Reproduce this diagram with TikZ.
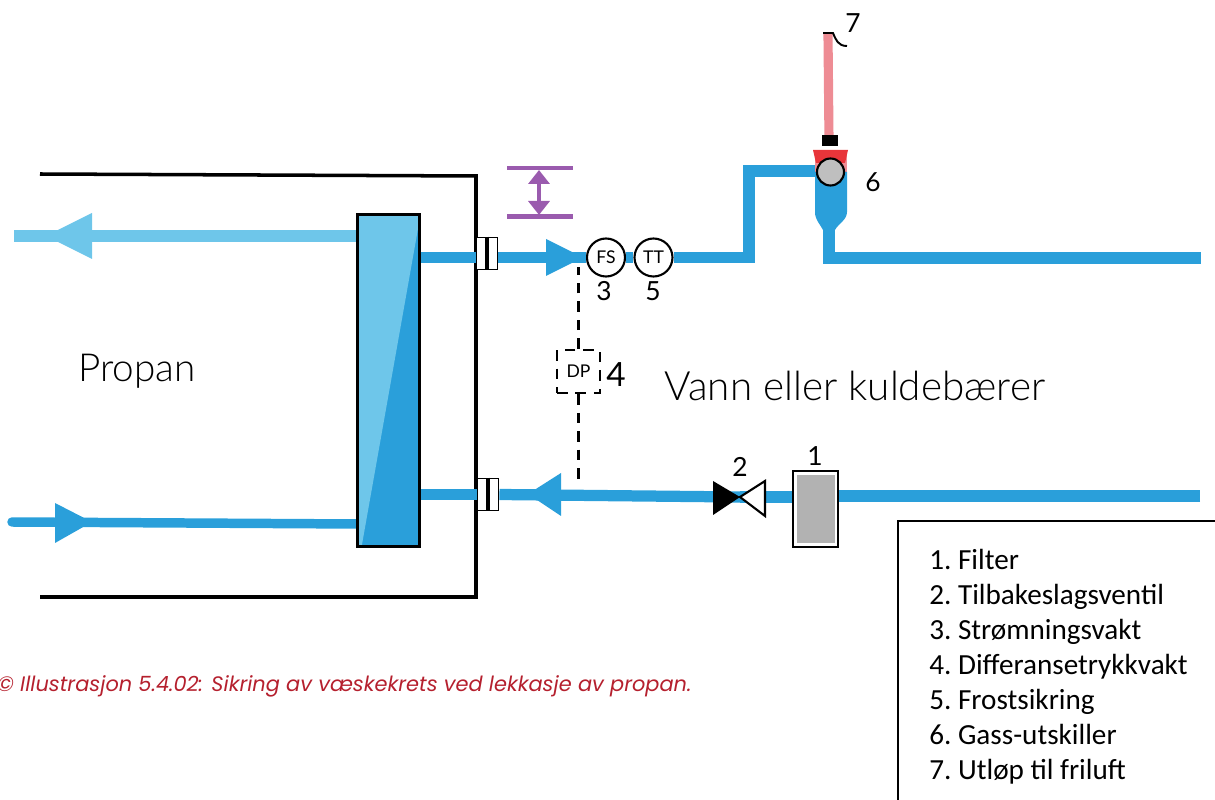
\documentclass[tikz,border=0pt]{standalone}
\usepackage{fontspec}
\setmainfont{Carlito}
\newfontfamily\handfont{Lato}
\newfontfamily\handlight{Lato Light}
\newfontfamily\capfont{Poppins}
\usepackage{xcolor}
\usetikzlibrary{arrows.meta, positioning, calc}
\definecolor{pipeblue}{HTML}{2A9FDA}
\definecolor{lightblue}{HTML}{6EC6EA}
\definecolor{ventred}{HTML}{EE8C94}
\definecolor{capred}{HTML}{B5202E}
\definecolor{dimpurple}{HTML}{9A5BAE}
\definecolor{capblock}{HTML}{E8353A}
\begin{document}
\begin{tikzpicture}[
    x=0.02cm, y=-0.02cm,
    pipe/.style={line width=6.4pt, draw=pipeblue},
    wall/.style={draw=black, line width=2pt},
    inst/.style={draw=black, circle, fill=white, line width=1.2pt, minimum size=.76cm, inner sep=0pt, font=\handfont\fontsize{10}{12}\selectfont},
    num/.style={font=\handfont\fontsize{15}{18}\selectfont, inner sep=0pt},
    flange/.style={draw=black, fill=white, line width=1.1pt, minimum width=.42cm, minimum height=.64cm, inner sep=0pt},
    dimline/.style={dimpurple, line width=2.6pt},
    dashline/.style={draw=black, line width=1.5pt, dash pattern=on 6pt off 4.5pt}
]
\useasboundingbox (0,0) rectangle (1215,800);
% vessel
\coordinate (walltopleft) at (40,174);
\coordinate (wallcorner) at (476,176);
\coordinate (wallbottom) at (476,597);
\coordinate (wallbotleft) at (40,597);
\draw[wall] (walltopleft) -- (wallcorner) -- (wallbottom) -- (wallbotleft);
% propan lines
\draw[line width=6.8pt, draw=lightblue] (14,236) -- (358,236);
\fill[lightblue] (46,236) -- (92,213) -- (92,259) -- cycle;
\draw[line width=5.4pt, draw=pipeblue, line cap=round] (12,522) -- (358,524);
\fill[pipeblue] (92,522) -- (55,503) -- (55,543) -- cycle;
% exchanger
\node[draw=black, line width=1.4pt, fill=pipeblue, minimum width=1.24cm, minimum height=6.64cm, inner sep=0pt] (hex) at (388.5,380.5) {};
\fill[lightblue] (hex.north west) -- (hex.north east) -- ($(hex.south west)!.08!(hex.south east)$) -- (hex.south west) -- cycle;
\node[draw=black, line width=1.4pt, minimum width=1.24cm, minimum height=6.64cm, inner sep=0pt] at (hex) {};
% water circuit, top
\node[flange] (flangetop) at (487,253.5) {};
\node[flange] (flangebot) at (488,494.5) {};
\node[inst] (fs) at (606,257.5) {FS};
\node[inst] (tt) at (653.5,257.5) {TT};
\coordinate (sep) at (830,171);
\draw[pipe] (hex.east |- fs) -- (flangetop.west |- fs);
\draw[pipe] (flangetop.east |- fs) -- (fs.west);
\draw[pipe] (fs.east) -- (tt.west);
\draw[pipe] (tt.east) -- (749,257.5) -- (749,171) -- (sep);
\draw[pipe] (829,200) -- (829,258) -- (1201,258);
\draw[black, line width=1.8pt] (flangetop.north) -- (flangetop.south);
\draw[black, line width=1.8pt] (flangebot.north) -- (flangebot.south);
\fill[pipeblue] (583,257.5) -- (546,239) -- (546,276) -- cycle;
% separator and vent
\draw[draw=ventred, line width=5.2pt] (829,140) -- (828,34);
\fill[black] (822,135) rectangle (838,146);
\fill[ventred] (815,150) rectangle (847,176);
\fill[capblock] (813,150) -- (848,150) -- (845,163) -- (816,163) -- cycle;
\fill[pipeblue] (815,172) -- (847,172) -- (847,212) .. controls (847,220) and (838,224) .. (835,230) -- (823,230) .. controls (820,224) and (815,220) .. (815,212) -- cycle;
\node[draw=black, circle, fill=black!25, line width=1.2pt, minimum size=.54cm, inner sep=0pt] (float) at (830.5,172) {};
\node[num] (six) at (873,182) {6};
\node[num] (seven) at (853,23) {7};
\draw[black, line width=1.1pt] (823,33) -- (833,33) .. controls (836,40) and (838,46) .. (847,46);
% level mark
\coordinate (dimtop) at (539,170);
\coordinate (dimbot) at (539,215);
\draw[dimline] (507,168) -- (573,168);
\draw[dimline] (507,216.5) -- (573,216.5);
\draw[dimpurple, line width=2.6pt, {Triangle[length=2.8mm,width=4.2mm]}-{Triangle[length=2.8mm,width=4.2mm]}] (dimtop) -- (dimbot);
% water circuit, bottom
\node[draw=black, fill=white, line width=1.3pt, minimum width=.9cm, minimum height=1.52cm, inner sep=0pt] (filter) at (815.5,509) {};
\node[fill=black!30, minimum width=.76cm, minimum height=1.38cm, inner sep=0pt] (filtercore) at (filter) {};
\coordinate (valve) at (740,497);
\draw[pipe] (1200,496) -- (filter.east |- 0,496);
\draw[pipe] (filter.west |- 0,497) -- (valve);
\draw[pipe] (valve) -- (flangebot.east);
\draw[pipe] (flangebot.west) -- (hex.east |- flangebot);
\fill[black] (713,481) -- (valve) -- (713,515) -- cycle;
\draw[black, fill=white, line width=1.2pt] (765,481) -- (valve) -- (765,516) -- cycle;
\fill[pipeblue] (528,494) -- (561,473) -- (561,516) -- cycle;
\node[num] (one) at (815,456) {1};
\node[num] (two) at (740,467) {2};
% pressure switch
\node[draw=black, dash pattern=on 6pt off 4.5pt, line width=1.6pt, minimum width=.86cm, minimum height=.86cm, inner sep=0pt, font=\handfont\fontsize{10}{12}\selectfont] (dp) at (578.5,371.5) {DP};
\draw[dashline] (dp.north) -- ++(0,-82);
\draw[dashline] (dp.south) -- ++(0,92);
\node[num, font=\handfont\fontsize{19}{22}\selectfont] (four) at (616,375) {4};
\node[num] (three) at (604,291) {3};
\node[num] (five) at (653,291) {5};
% labels
\node[font=\handlight\fontsize{22}{26}\selectfont, inner sep=0pt] (propan) at (137,371) {Propan};
\node[font=\handlight\fontsize{23}{26}\selectfont, inner sep=0pt] (water) at (855,386) {Vann eller kuldebærer};
\node[font=\capfont\itshape\fontsize{11.9}{14}\selectfont, text=capred, anchor=west, inner sep=0pt] (caption) at (-3,686) {© Illustrasjon 5.4.02: Sikring av væskekrets ved lekkasje av propan.};
% legend
\draw[black, line width=1.2pt] (898,800) -- (898,521) -- (1215,521);
\node[anchor=north west, align=left, inner sep=0pt, font=\fontsize{16.6}{19.9}\selectfont\frenchspacing] (legend) at (929,549) {1. Filter\\2. Tilbakeslagsventil\\3. Strømningsvakt\\4. Differansetrykkvakt\\5. Frostsikring\\6. Gass-utskiller\\7. Utløp til friluft};
\end{tikzpicture}
\end{document}
